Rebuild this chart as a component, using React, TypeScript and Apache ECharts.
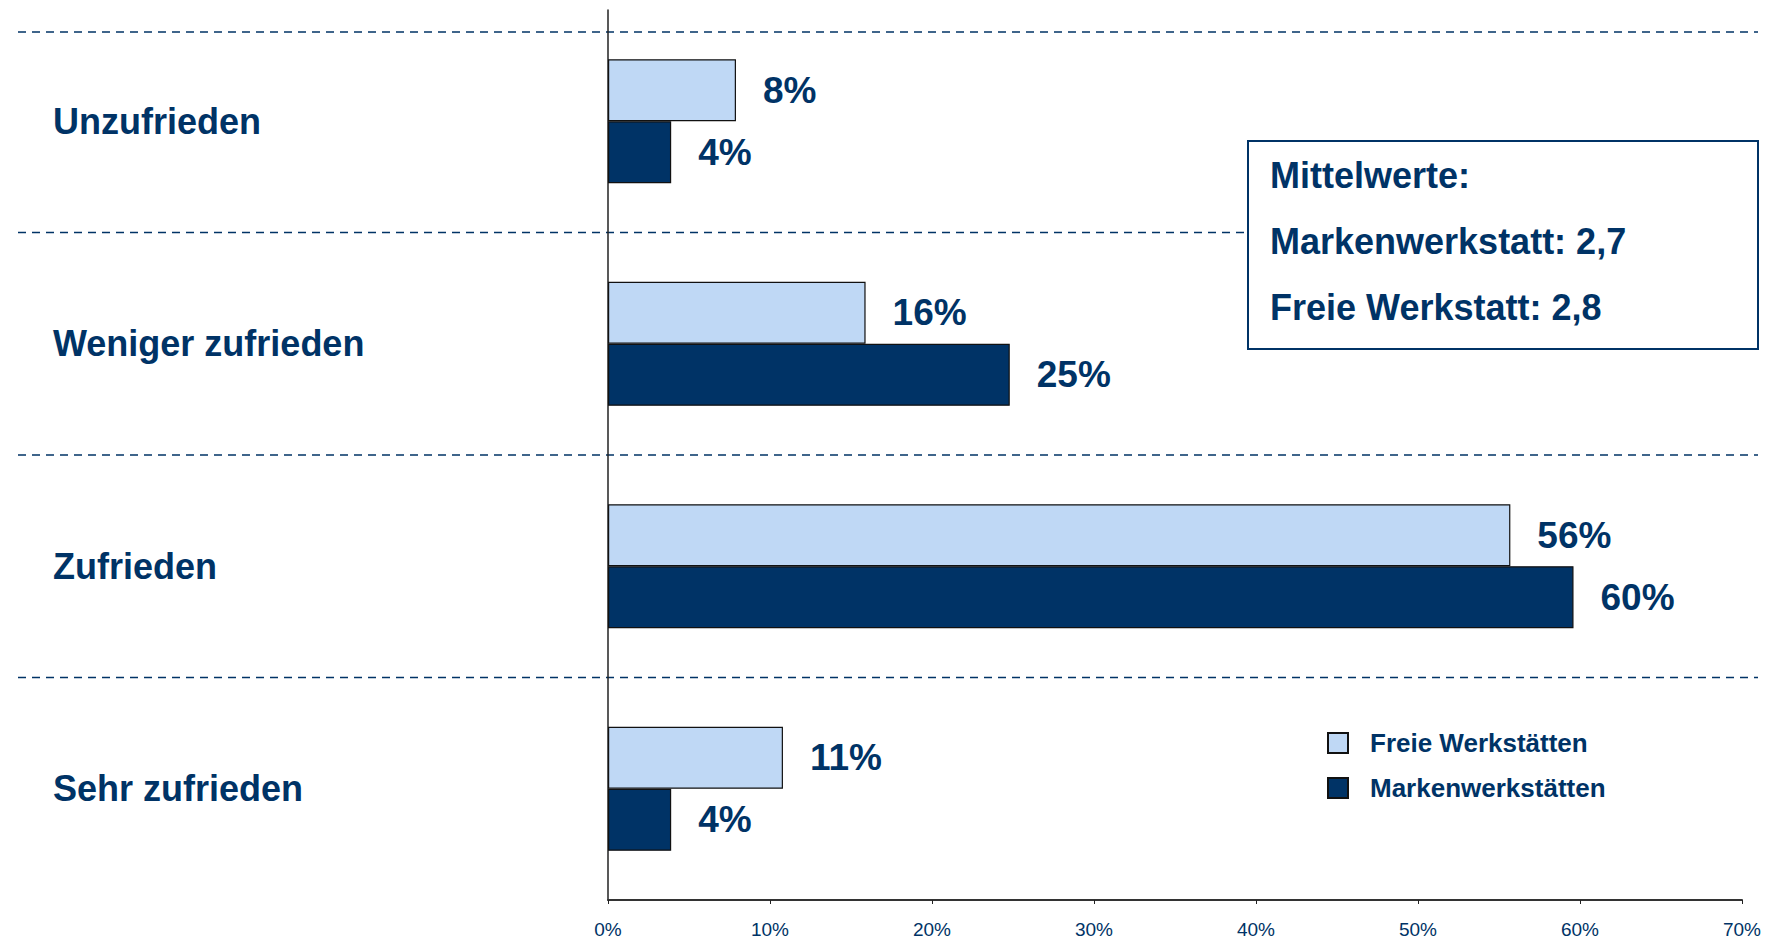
import React, { useEffect, useRef } from "react";
import * as echarts from "echarts";

const categories = ["Unzufrieden", "Weniger zufrieden", "Zufrieden", "Sehr zufrieden"];
const freieValues = [7.9, 15.9, 55.7, 10.8];
const markenValues = [3.9, 24.8, 59.6, 3.9];
const seriesNames = ["Freie Werkstätten", "Markenwerkstätten"];
const meanLines = ["Mittelwerte:", "Markenwerkstatt: 2,7", "Freie Werkstatt: 2,8"];
const xMin = 0;
const xMax = 70;
const xInterval = 10;

const NAVY = "#003366";
const LIGHT = "#BFD8F5";
const FONT = "'Liberation Sans', Arial, Helvetica, sans-serif";

export default function App() {
  const ref = useRef<HTMLDivElement>(null);

  useEffect(() => {
    if (!ref.current) return;
    const chart = echarts.init(ref.current, undefined, { renderer: "svg" });

    const labelCfg = {
      show: true,
      position: "right",
      distance: 27,
      fontSize: 37,
      fontWeight: "bold",
      fontFamily: FONT,
      color: NAVY,
      formatter: (p: any) => Math.round(p.value) + "%",
    };

    chart.setOption({
      animation: false,
      textStyle: { fontFamily: FONT },
      grid: { left: 608, right: 29, top: 10, bottom: 41, containLabel: false, outerBoundsMode: "none" },
      legend: {
        orient: "vertical",
        left: 1322,
        top: 725,
        padding: 5,
        itemWidth: 20,
        itemHeight: 20,
        itemGap: 19,
        icon: "rect",
        selectedMode: false,
        data: seriesNames,
        textStyle: { fontSize: 26, fontWeight: "bold", color: NAVY, fontFamily: FONT, padding: [0, 0, 0, 17] },
      },
      xAxis: {
        type: "value",
        min: xMin,
        max: xMax,
        interval: xInterval,
        axisLine: { show: true, onZero: false, lineStyle: { color: "#333", width: 2 } },
        axisTick: { show: true, length: 4, lineStyle: { color: "#222" } },
        splitLine: { show: false },
        axisLabel: { formatter: "{value}%", fontSize: 19, color: NAVY, margin: 20, fontFamily: FONT },
      },
      yAxis: {
        type: "category",
        inverse: true,
        data: categories,
        axisLine: { show: true, lineStyle: { color: "#222", width: 1.5 } },
        axisTick: { show: false },
        splitLine: { show: false },
        axisLabel: {
          align: "left",
          margin: 555,
          fontSize: 36,
          fontWeight: "bold",
          color: NAVY,
          fontFamily: FONT,
        },
      },
      series: [
        {
          name: seriesNames[0],
          type: "bar",
          data: freieValues,
          barWidth: 62,
          barGap: "0%",
          itemStyle: { color: LIGHT, borderColor: "#111", borderWidth: 1.2 },
          label: labelCfg,
        },
        {
          name: seriesNames[1],
          type: "bar",
          data: markenValues,
          barWidth: 62,
          barGap: "0%",
          itemStyle: { color: NAVY, borderColor: "#111", borderWidth: 1.2 },
          label: labelCfg,
        },
      ],
    });

    // separators between categories, computed through the axis
    const ys: number[] = categories.map((c) => chart.convertToPixel({ yAxisIndex: 0 }, c) as number);
    const band = ys.length > 1 ? ys[1] - ys[0] : 0;
    const sepYs = ys.slice(0, -1).map((y) => y + band / 2);
    const lineYs = [32, ...sepYs];

    const dashed = lineYs.map((y) => ({
      type: "line",
      z: 0,
      shape: { x1: 18, y1: y, x2: 1758, y2: y },
      style: { stroke: NAVY, lineWidth: 1.5, lineDash: [8, 6] },
      silent: true,
    }));

    const boxX = 1248;
    const boxY = 141;
    const textEls = meanLines.map((t, i) => ({
      type: "text",
      x: boxX + 22,
      y: boxY + 34 + i * 66,
      style: {
        text: t,
        fontSize: 36,
        fontWeight: "bold",
        fontFamily: FONT,
        fill: NAVY,
        verticalAlign: "middle",
        align: "left",
      },
    }));

    chart.setOption({
      graphic: [
        ...dashed,
        {
          type: "rect",
          z: 10,
          shape: { x: boxX, y: boxY, width: 510, height: 208 },
          style: { fill: "#fff", stroke: NAVY, lineWidth: 2 },
        },
        ...textEls.map((e) => ({ ...e, z: 11 })),
      ],
    });

    return () => chart.dispose();
  }, []);

  return (
    <div
      ref={ref}
      style={{ position: "fixed", left: 0, top: 0, width: 1771, height: 941, background: "#fff" }}
    />
  );
}
